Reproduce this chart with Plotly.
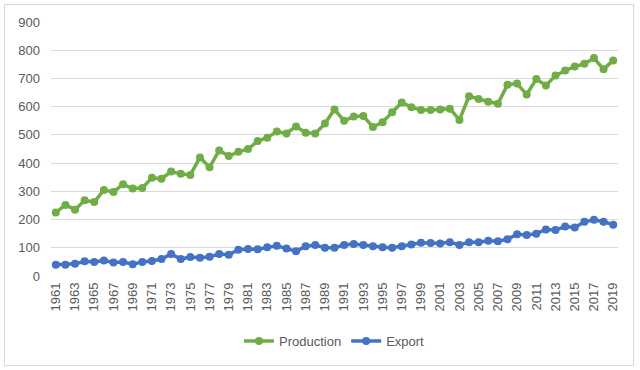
import plotly.graph_objects as go

years = list(range(1961, 2020))
production = [225, 252, 235, 268, 262, 305, 298, 325, 310, 312,
              348, 345, 370, 362, 358, 420, 385, 445, 425, 440,
              450, 478, 490, 512, 505, 530, 508, 505, 540, 590,
              550, 565, 567, 528, 545, 580, 615, 598, 588, 588,
              590, 593, 553, 637, 627, 617, 610, 678, 682, 643,
              698, 675, 710, 728, 742, 752, 772, 733, 764]
export = [40, 40, 43, 52, 50, 55, 48, 50, 42, 50,
          53, 60, 78, 60, 67, 65, 68, 78, 75, 93,
          96, 95, 102, 107, 97, 88, 105, 110, 100, 100,
          110, 113, 110, 105, 102, 100, 105, 112, 118, 117,
          115, 120, 110, 120, 120, 125, 123, 130, 148, 145,
          150, 165, 163, 175, 172, 192, 199, 192, 182]
tick_years = list(range(1961, 2020, 2))
y_ticks = list(range(0, 1000, 100))

fig = go.Figure()
fig.add_trace(go.Scatter(x=years, y=production, name="Production", mode="lines+markers",
                         line=dict(color="#70AD47", width=3.5),
                         marker=dict(color="#70AD47", size=8)))
fig.add_trace(go.Scatter(x=years, y=export, name="Export", mode="lines+markers",
                         line=dict(color="#4472C4", width=3.5),
                         marker=dict(color="#4472C4", size=8)))

font_fam = "Liberation Sans, Arial, sans-serif"
fig.update_layout(
    width=640, height=370,
    margin=dict(l=51, r=22, t=22, b=94, autoexpand=False),
    paper_bgcolor="white", plot_bgcolor="white",
    font=dict(family=font_fam, size=13, color="#595959"),
    showlegend=True,
    legend=dict(orientation="h", x=0.5, xanchor="center", y=-0.256, yanchor="middle",
                font=dict(size=13, color="#595959")),
    xaxis=dict(range=[1960.5, 2019.5], tickmode="array", tickvals=tick_years,
               ticktext=[str(y) for y in tick_years], tickangle=-90,
               showgrid=False, zeroline=False, showline=False, ticks="",
               ticklabelstandoff=3,
               tickfont=dict(size=13, color="#595959")),
    yaxis=dict(range=[0, 900], tickmode="array", tickvals=y_ticks,
               showgrid=True, gridcolor="#D9D9D9", gridwidth=1, zeroline=False,
               ticks="", ticklabelstandoff=10,
               tickfont=dict(size=13, color="#595959")),
    hovermode=False,
    shapes=[dict(type="rect", xref="paper", yref="paper",
                 x0=(4.5 - 51) / 567, x1=(633.5 - 51) / 567,
                 y0=(276 - 365.5) / 254, y1=(276 - 4.5) / 254,
                 line=dict(color="#D9D9D9", width=1), fillcolor="rgba(0,0,0,0)", layer="below")],
)
fig.write_html("out.html",
               config={"displayModeBar": False, "staticPlot": True},
               post_script="document.body.style.margin='0';document.body.style.padding='0';document.body.style.overflow='hidden';")
